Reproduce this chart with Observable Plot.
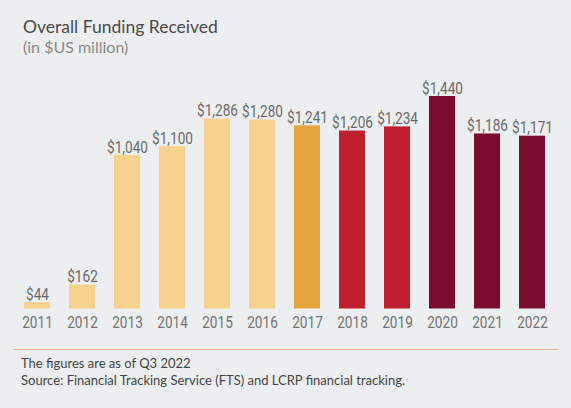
<!DOCTYPE html>
<html>
<head>
<meta charset="utf-8">
<script src="https://cdn.jsdelivr.net/npm/d3@7"></script>
<script src="https://cdn.jsdelivr.net/npm/@observablehq/plot@0.6"></script>
<style>
  html, body { margin: 0; padding: 0; }
  body { width: 571px; height: 408px; background: #eceeef; position: relative; overflow: hidden; }
  .title { position: absolute; left: 23px; top: 17px; font: 17.5px/20px Lato, "Open Sans", sans-serif; color: #4a4a4a; white-space: nowrap; }
  .subtitle { position: absolute; left: 23px; top: 38px; font: 16px/18px Lato, "Open Sans", sans-serif; color: #8a8a8a; white-space: nowrap; }
  #chart { position: absolute; left: 0; top: 60px; }
  .sep { position: absolute; left: 13px; width: 545px; top: 349px; height: 0; border-top: 1.5px solid #ebb3a6; }
  .foot { position: absolute; left: 21px; font: 13px/16px Lato, "Open Sans", sans-serif; color: #454545; white-space: nowrap; }
</style>
</head>
<body>
<div class="title">Overall Funding Received</div>
<div class="subtitle">(in $US million)</div>
<div id="chart"></div>
<div class="sep"></div>
<div class="foot" style="top:355px">The figures are as of Q3 2022</div>
<div class="foot" style="top:372px">Source: Financial Tracking Service (FTS) and LCRP financial tracking.</div>
<script>
const years = ["2011","2012","2013","2014","2015","2016","2017","2018","2019","2020","2021","2022"];
const values = [44, 162, 1040, 1100, 1286, 1280, 1241, 1206, 1234, 1440, 1186, 1171];
const phases = ["early","early","early","early","early","early","mid","late","late","recent","recent","recent"];
const phaseDomain = ["early","mid","late","recent"];
const phaseColors = ["#f9d18f","#e6a43c","#be1e2d","#7a0d2f"];

const data = years.map((year, i) => ({year, value: values[i], phase: phases[i]}));
const numFont = "Roboto, sans-serif";
const fmt = d3.format(",");

const chart = Plot.plot({
  width: 571,
  height: 280,
  marginLeft: 3,
  marginRight: 4,
  marginTop: 36,
  marginBottom: 31.5,
  style: { background: "transparent", fontFamily: numFont },
  x: { domain: years, padding: 0.42, label: null },
  y: { domain: [0, 1440], axis: null },
  color: { domain: phaseDomain, range: phaseColors },
  marks: [
    Plot.barY(data, { x: "year", y: "value", fill: "phase" }),
    Plot.text(data, {
      x: "year", y: "value",
      text: d => "$" + fmt(d.value),
      lineAnchor: "bottom", dy: -3,
      fontSize: 17, fill: "#6b6b6b", fontFamily: numFont
    }),
    Plot.axisX({ tickSize: 0, tickPadding: 6.5, fontSize: 17, color: "#737373", fontFamily: numFont, label: null })
  ]
});
document.getElementById("chart").appendChild(chart);
// narrow the numerals (the reference uses a condensed humanist face)
chart.querySelectorAll("text").forEach(t => {
  const b = t.getBBox();
  const cx = b.x + b.width / 2;
  const prev = t.getAttribute("transform") || "";
  t.setAttribute("transform", `${prev} translate(${cx},0) scale(0.8,1) translate(${-cx},0)`);
});
</script>
</body>
</html>
